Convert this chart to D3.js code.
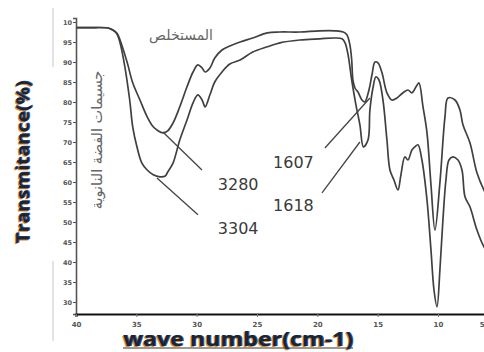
<!DOCTYPE html>
<html><head><meta charset="utf-8">
<script src="https://cdn.jsdelivr.net/npm/d3@7"></script>
<style>body{margin:0;background:#fff}svg{display:block}</style>
</head><body>
<svg id="c" width="484" height="352"></svg>
<script>
// ---- data ----
const xTickValues = [4000, 3500, 3000, 2500, 2000, 1500, 1000, 500];
const xTickLabels = ["40", "35", "30", "25", "20", "15", "10", "5"];
const yTickValues = [100, 95, 90, 85, 80, 75, 70, 65, 60, 55, 50, 45, 40, 35, 30];
const yTickLabels = ["10", "95", "90", "85", "80", "75", "70", "65", "60", "55", "50", "45", "40", "35", "30"];

const seriesNames = ["المستخلص", "جسيمات الفضة النانوية"];

// extract (upper curve)
const extractWn = [4000,3885,3735,3695,3660,3635,3575,3530,3470,3410,3360,3320,3280,3240,3195,3140,3080,3030,2990,2955,2930,2890,2850,2790,2725,2640,2535,2415,2310,2145,1980,1855,1785,1755,1730,1715,1705,1688,1663,1630,1607,1572,1547,1522,1497,1464,1423,1381,1340,1290,1249,1216,1182,1158,1124,1091,1058,1025,984,942,917,859,818,793,735,677,619,569];
const extractT  = [98.6,98.6,98.5,98.0,97.2,95.5,89.8,84.8,80.5,76.3,73.8,72.8,72.3,72.8,74.8,78.8,83.8,87.5,89.3,88.5,87.5,88.5,91.0,93.0,94.0,95.0,96.0,97.3,97.5,97.5,97.8,97.8,97.5,96.8,94.3,90.5,85.5,83.5,82.5,80.5,80.0,83.0,86.8,90.0,89.8,87.3,82.3,80.5,81.0,82.3,83.0,82.3,83.8,84.8,78.8,72.3,59.3,48.0,59.8,76.3,81.0,80.5,78.0,74.3,69.8,62.3,58.0,55.5];

// silver nanoparticles (lower curve)
const silverWn = [4000,3885,3735,3695,3660,3635,3595,3555,3530,3495,3455,3410,3360,3304,3260,3240,3195,3140,3080,3030,2990,2955,2930,2890,2850,2790,2725,2640,2535,2415,2310,2145,1980,1855,1795,1770,1745,1715,1680,1647,1618,1580,1564,1539,1514,1489,1456,1423,1398,1365,1332,1307,1274,1249,1216,1191,1166,1133,1091,1058,1033,1008,984,959,934,909,876,834,801,776,735,677,619,569];
const silverT  = [98.6,98.6,98.5,98.0,97.0,94.8,88.8,80.5,73.8,68.8,64.8,63.0,61.8,61.3,61.5,62.5,64.8,70.5,75.5,79.8,81.8,80.5,78.8,81.8,85.0,87.5,89.5,90.5,92.5,93.8,94.8,95.5,95.8,96.0,95.8,94.8,91.8,85.5,79.3,74.3,68.8,70.5,78.0,83.5,86.3,85.5,80.5,70.5,63.0,60.5,58.0,61.8,66.3,65.5,68.0,68.8,69.3,65.5,55.5,43.0,33.0,28.8,38.0,50.5,60.5,65.5,66.3,65.5,63.0,56.3,53.8,48.0,43.8,41.8];

// peak annotations: leader from curve point to label
const peakLabels = ["3280", "3304", "1607", "1618"];
const leaderFromWn = [3280, 3329, 1564, 1647];
const leaderFromT  = [72.5, 61.0, 81.0, 70.0];
const leaderToWn   = [2956, 2989, 1937, 1961];
const leaderToT    = [63.0, 51.8, 68.5, 57.3];
const labelWn      = [2825, 2825, 2367, 2367];
const labelT       = [58.0, 47.0, 63.5, 52.8];

// ---- drawing ----
const svg = d3.select("#c");
const x = d3.scaleLinear().domain([4000, 500]).range([76, 498.3]);
const y = d3.scaleLinear().domain([27, 101]).range([314, 18]);

// decorative frame lines left
svg.append("line").attr("x1",53).attr("x2",53).attr("y1",8).attr("y2",67).attr("stroke","#c8c8c8").attr("stroke-width",1);
svg.append("line").attr("x1",53).attr("x2",53).attr("y1",261).attr("y2",341).attr("stroke","#c8c8c8").attr("stroke-width",1);

// y axis
const gy = svg.append("g").attr("transform","translate(76,0)")
  .call(d3.axisLeft(y).tickValues(yTickValues).tickFormat((d,i)=>yTickLabels[i]).tickSize(3).tickPadding(1));
gy.select(".domain").attr("stroke","#555").attr("stroke-width",1.6);
gy.selectAll(".tick line").attr("stroke","#555");
gy.selectAll(".tick text").attr("font-family","DejaVu Sans").attr("font-size",6.5).attr("font-weight","bold").attr("fill","#555");

// x axis
const gx = svg.append("g").attr("transform","translate(0,314)")
  .call(d3.axisBottom(x).tickValues(xTickValues).tickFormat((d,i)=>xTickLabels[i]).tickSize(3).tickPadding(5));
gx.select(".domain").attr("stroke","#111").attr("stroke-width",2);
gx.selectAll(".tick line").attr("stroke","#777");
gx.selectAll(".tick text").attr("font-family","DejaVu Sans").attr("font-size",7).attr("font-weight","bold").attr("fill","#555");
// keep the last (edge) label inside the picture
gx.selectAll(".tick text").filter((d,i)=>i===xTickValues.length-1)
  .attr("text-anchor","end").attr("x", 484 - x(500));

// curves
const line = d3.line().x(d=>x(d[0])).y(d=>y(d[1])).curve(d3.curveCatmullRom.alpha(0.5));
const extract = extractWn.map((w,i)=>[w, extractT[i]]);
const silver = silverWn.map((w,i)=>[w, silverT[i]]);
[extract, silver].forEach(s=>{
  svg.append("path").attr("d", line(s)).attr("fill","none").attr("stroke","#404040").attr("stroke-width",1.7).attr("stroke-linejoin","round");
});

// leaders + labels
peakLabels.forEach((lab,i)=>{
  svg.append("line")
    .attr("x1", x(leaderFromWn[i])).attr("y1", y(leaderFromT[i]))
    .attr("x2", x(leaderToWn[i])).attr("y2", y(leaderToT[i]))
    .attr("stroke","#444").attr("stroke-width",1.3);
  svg.append("text").attr("x", x(labelWn[i])).attr("y", y(labelT[i]))
    .attr("font-family","DejaVu Sans").attr("font-size",16).attr("fill","#3a3a3a").text(lab);
});

// Arabic series labels
svg.append("text").attr("x",181).attr("y",40).attr("text-anchor","middle")
  .attr("font-family","DejaVu Sans").attr("font-size",14).attr("fill","#666").text(seriesNames[0]);
svg.append("text").attr("transform","translate(102,140) rotate(-90)").attr("text-anchor","middle")
  .attr("font-family","DejaVu Sans").attr("font-size",14.5).attr("fill","#666").text(seriesNames[1]);

// axis titles with scan-like colour fringes
function fringeText(tx, ty, rot, str, len, size){
  const offs = [[-1,1,"#e08a2a"],[1,-0.5,"#2b5ea8"],[0,0,"#1b2430"]];
  offs.forEach(o=>{
    svg.append("text")
      .attr("transform", `translate(${tx+o[0]},${ty+o[1]}) rotate(${rot})`)
      .attr("text-anchor","middle").attr("font-family","Open Sans").attr("font-weight","bold")
      .attr("font-size",size).attr("textLength",len).attr("lengthAdjust","spacingAndGlyphs")
      .attr("fill",o[2]).text(str);
  });
}
fringeText(29, 162, -90, "Transmitance(%)", 163, 18);
fringeText(238, 346, 0, "wave number(cm-1)", 230, 19);
svg.append("line").attr("x1",123).attr("x2",353).attr("y1",348).attr("y2",348).attr("stroke","#333").attr("stroke-width",1);
</script>
</body></html>
